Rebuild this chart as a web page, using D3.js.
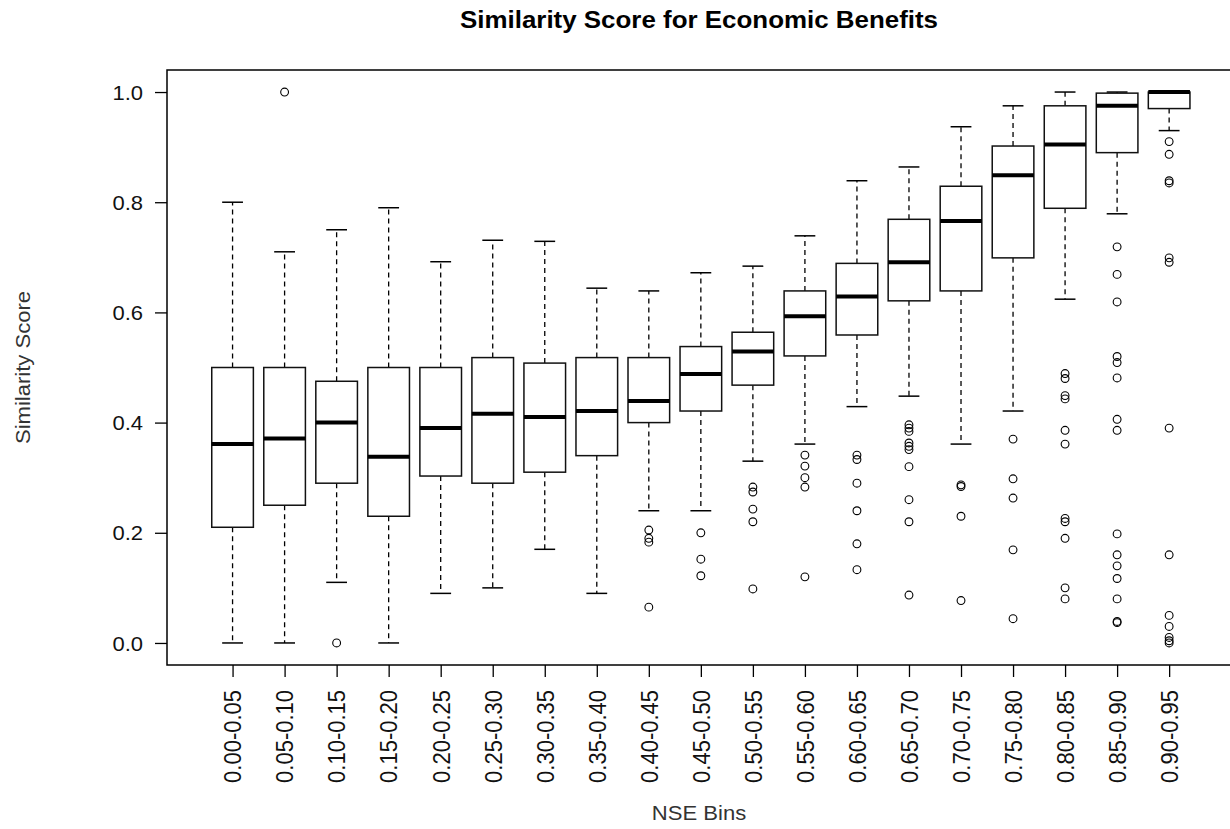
<!DOCTYPE html>
<html>
<head>
<meta charset="utf-8">
<script src="https://cdn.jsdelivr.net/npm/d3@7"></script>
<style>
  html, body { margin: 0; padding: 0; background: #fff; }
  svg { display: block; font-family: "Liberation Sans", Arial, sans-serif; }
</style>
</head>
<body>
<svg id="chart" width="1230" height="829"></svg>
<script>
// NSE bin labels
const bins = ["0.00-0.05","0.05-0.10","0.10-0.15","0.15-0.20","0.20-0.25","0.25-0.30",
  "0.30-0.35","0.35-0.40","0.40-0.45","0.45-0.50","0.50-0.55","0.55-0.60","0.60-0.65",
  "0.65-0.70","0.70-0.75","0.75-0.80","0.80-0.85","0.85-0.90","0.90-0.95"];

// Five-number summaries per bin
const lowerWhisker = [0.00, 0.00, 0.11, 0.00, 0.09, 0.10, 0.17, 0.09, 0.24, 0.24, 0.33, 0.361, 0.429, 0.448, 0.361, 0.421, 0.624, 0.779, 0.930];
const lowerQuartile = [0.21, 0.25, 0.29, 0.23, 0.303, 0.29, 0.31, 0.34, 0.40, 0.421, 0.468, 0.521, 0.559, 0.621, 0.639, 0.699, 0.789, 0.890, 0.970];
const medians = [0.361, 0.371, 0.40, 0.338, 0.39, 0.416, 0.41, 0.421, 0.439, 0.488, 0.529, 0.593, 0.629, 0.691, 0.766, 0.849, 0.905, 0.975, 1.00];
const upperQuartile = [0.50, 0.50, 0.475, 0.50, 0.50, 0.518, 0.508, 0.518, 0.518, 0.538, 0.564, 0.639, 0.689, 0.769, 0.829, 0.902, 0.975, 0.998, 1.00];
const upperWhisker = [0.80, 0.71, 0.75, 0.79, 0.692, 0.731, 0.729, 0.644, 0.639, 0.672, 0.684, 0.739, 0.839, 0.864, 0.937, 0.975, 1.00, 1.00, 1.00];

// Outlying observations per bin
const outliers = [
  [],
  [1.00],
  [0.00],
  [],
  [],
  [],
  [],
  [],
  [0.205, 0.190, 0.183, 0.065],
  [0.200, 0.152, 0.122],
  [0.283, 0.274, 0.243, 0.220, 0.098],
  [0.341, 0.321, 0.300, 0.283, 0.120],
  [0.341, 0.333, 0.290, 0.240, 0.180, 0.133],
  [0.396, 0.390, 0.384, 0.363, 0.357, 0.351, 0.320, 0.260, 0.220, 0.087],
  [0.287, 0.284, 0.230, 0.077],
  [0.370, 0.298, 0.263, 0.169, 0.044],
  [0.489, 0.480, 0.449, 0.443, 0.386, 0.361, 0.226, 0.220, 0.190, 0.100, 0.080],
  [0.719, 0.669, 0.619, 0.520, 0.509, 0.481, 0.406, 0.386, 0.198, 0.160, 0.140, 0.117, 0.080, 0.039, 0.037],
  [0.910, 0.887, 0.839, 0.835, 0.699, 0.691, 0.390, 0.160, 0.050, 0.030, 0.010, 0.004, 0.000]
];

const yTicks = [0.0, 0.2, 0.4, 0.6, 0.8, 1.0];

const svg = d3.select("#chart");
const plot = { left: 167, right: 1234.7, top: 70, bottom: 665 };
const FONT = "Liberation Sans, Arial, sans-serif";
const stretch = 1.1; // text is drawn slightly wide

const x = d3.scalePoint().domain(bins).range([plot.left, plot.right]).padding(1.26);
const y = d3.scaleLinear().domain([-0.04, 1.04]).range([plot.bottom, plot.top]);
const boxW = x.step() * 0.8;
const stapleW = boxW * 0.5;

const data = bins.map((b, i) => ({
  bin: b, lw: lowerWhisker[i], q1: lowerQuartile[i], med: medians[i],
  q3: upperQuartile[i], uw: upperWhisker[i], out: outliers[i]
}));

const g = svg.append("g");
const groups = g.selectAll("g.box").data(data).join("g").attr("class", "box")
  .attr("transform", d => `translate(${x(d.bin)},0)`);

// whiskers (dashed)
groups.append("line").attr("x1", 0).attr("x2", 0)
  .attr("y1", d => y(d.q3)).attr("y2", d => y(d.uw))
  .attr("stroke", "#000").attr("stroke-width", 1.3).attr("stroke-dasharray", "5,4");
groups.append("line").attr("x1", 0).attr("x2", 0)
  .attr("y1", d => y(d.q1)).attr("y2", d => y(d.lw))
  .attr("stroke", "#000").attr("stroke-width", 1.3).attr("stroke-dasharray", "5,4");

// staples
groups.selectAll("line.staple").data(d => [d.uw, d.lw]).join("line").attr("class", "staple")
  .attr("x1", -stapleW / 2).attr("x2", stapleW / 2)
  .attr("y1", v => y(v)).attr("y2", v => y(v))
  .attr("stroke", "#000").attr("stroke-width", 1.5);

// box
groups.append("rect")
  .attr("x", -boxW / 2).attr("width", boxW)
  .attr("y", d => y(d.q3)).attr("height", d => y(d.q1) - y(d.q3))
  .attr("fill", "#fff").attr("stroke", "#111").attr("stroke-width", 1.5);

// median
groups.append("line")
  .attr("x1", -boxW / 2).attr("x2", boxW / 2)
  .attr("y1", d => y(d.med)).attr("y2", d => y(d.med))
  .attr("stroke", "#000").attr("stroke-width", 4);

// outliers
groups.selectAll("circle").data(d => d.out).join("circle")
  .attr("cx", 0).attr("cy", v => y(v)).attr("r", 3.9)
  .attr("fill", "none").attr("stroke", "#000").attr("stroke-width", 1.1);

// frame
svg.append("rect")
  .attr("x", plot.left).attr("y", plot.top)
  .attr("width", plot.right - plot.left).attr("height", plot.bottom - plot.top)
  .attr("fill", "none").attr("stroke", "#000").attr("stroke-width", 1.5);

// y axis
const yAxis = svg.append("g").attr("transform", `translate(${plot.left},0)`)
  .call(d3.axisLeft(y).tickValues(yTicks).tickFormat(d3.format(".1f")).tickSize(12));
yAxis.select(".domain").remove();
yAxis.selectAll("line").attr("stroke", "#000").attr("stroke-width", 1.3);
yAxis.selectAll("text")
  .attr("font-size", 20).attr("fill", "#111").attr("font-family", FONT)
  .attr("x", 0).attr("dy", "0.36em")
  .attr("transform", `translate(-24,0) scale(${stretch},1)`);

// x axis
const xAxis = svg.append("g").attr("transform", `translate(0,${plot.bottom})`)
  .call(d3.axisBottom(x).tickSize(12));
xAxis.select(".domain").remove();
xAxis.selectAll("line").attr("stroke", "#000").attr("stroke-width", 1.3);
xAxis.selectAll("text")
  .attr("font-size", 22).attr("fill", "#111").attr("font-family", FONT)
  .attr("transform", `rotate(-90) scale(1,1.05)`)
  .attr("text-anchor", "end").attr("dy", "0.36em")
  .attr("x", -25).attr("y", 0);

// title
svg.append("text").attr("x", 0).attr("y", 0)
  .attr("transform", `translate(699,28) scale(1.08,1)`)
  .attr("text-anchor", "middle").attr("font-weight", "bold").attr("font-size", 24)
  .attr("font-family", FONT)
  .text("Similarity Score for Economic Benefits");

// axis titles
svg.append("text").attr("x", 0).attr("y", 0)
  .attr("transform", `translate(699,820) scale(1.05,1)`)
  .attr("text-anchor", "middle").attr("font-size", 21).attr("fill", "#333")
  .attr("font-family", FONT)
  .text("NSE Bins");
svg.append("text")
  .attr("transform", `translate(30,${(plot.top + plot.bottom) / 2}) rotate(-90) scale(1.05,1)`)
  .attr("text-anchor", "middle").attr("font-size", 21).attr("fill", "#333")
  .attr("font-family", FONT)
  .text("Similarity Score");
</script>
</body>
</html>
